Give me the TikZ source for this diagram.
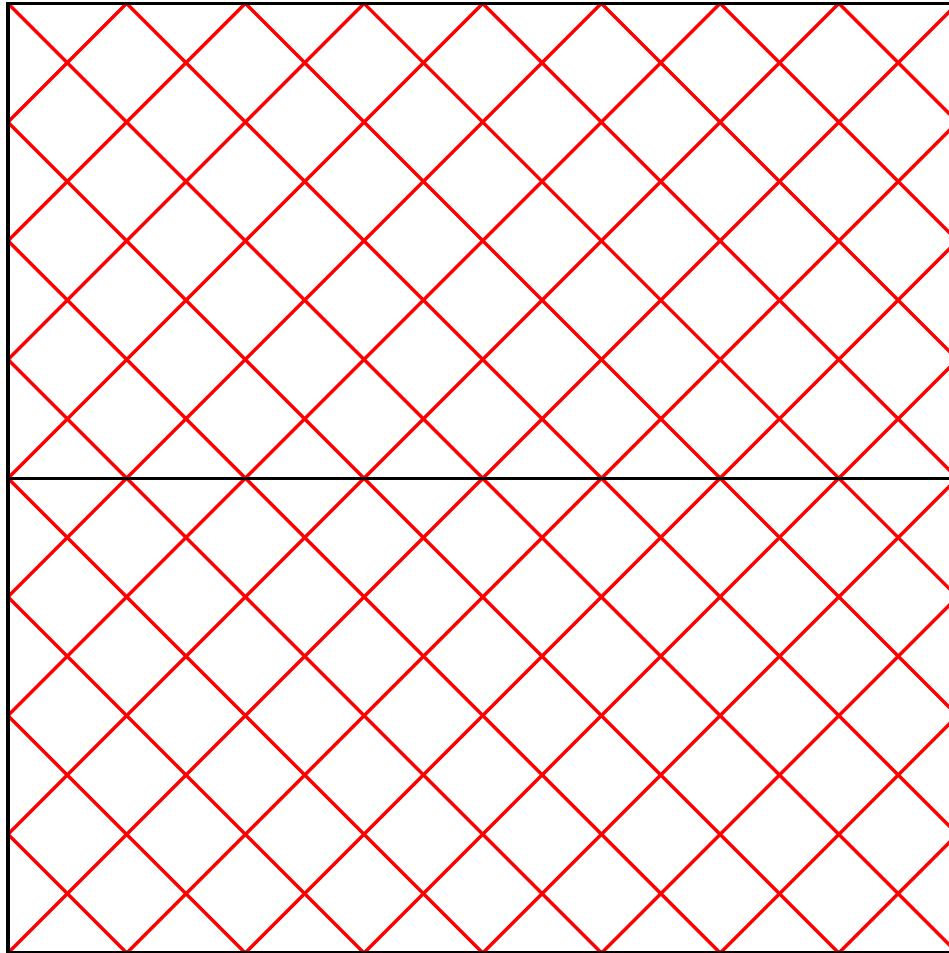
\documentclass[tikz,border=0pt]{standalone}
\usepackage{tikz}
\usetikzlibrary{calc,positioning}

\begin{document}
\begin{tikzpicture}[scale=1]
		\useasboundingbox (-0.067,0) rectangle (7.924,8.029);
		\begin{scope}
		\clip (0,0) rectangle (8,8);
		\foreach \k in {-8,...,7}
			\draw[red,thick] (\k,0) -- ++(8,8);
		\foreach \k in {1,...,16}
			\draw[red,thick] (\k,0) -- ++(-8,8);
		\end{scope}
		\draw[thick] (0,0) -- (0,8) -- (8,8);
		\draw[thick] (0,4) -- (8,4);
		\draw[thick] (0,0) -- (8,0);
		\end{tikzpicture}
\end{document}
